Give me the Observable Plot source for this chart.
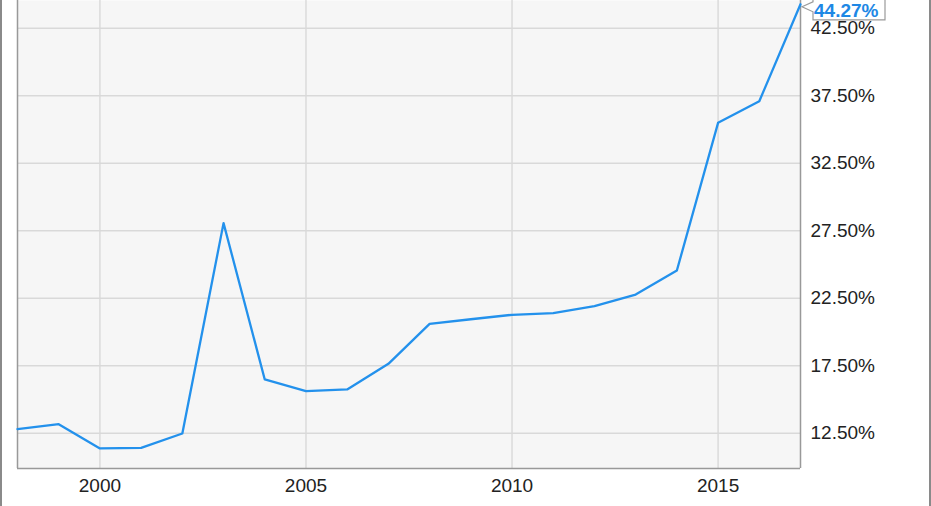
<!DOCTYPE html>
<html>
<head>
<meta charset="utf-8">
<script src="https://cdn.jsdelivr.net/npm/d3@7"></script>
<script src="https://cdn.jsdelivr.net/npm/@observablehq/plot@0.6"></script>
<style>
  html, body { margin: 0; padding: 0; background: #fff; }
  #chart svg { display: block; border-left: 2px solid #8a8a8a; border-right: 2px solid #8a8a8a; background: #fff; }
</style>
</head>
<body>
<div id="chart"></div>
<script>
const years = [1998, 1999, 2000, 2001, 2002, 2003, 2004, 2005, 2006, 2007, 2008, 2009, 2010, 2011, 2012, 2013, 2014, 2015, 2016, 2017];
const values = [12.8, 13.17, 11.37, 11.41, 12.48, 28.06, 16.48, 15.61, 15.74, 17.64, 20.6, 20.94, 21.27, 21.39, 21.91, 22.77, 24.55, 35.49, 37.09, 44.27];
const yTicks = [12.5, 17.5, 22.5, 27.5, 32.5, 37.5, 42.5];
const xTicks = [2000, 2005, 2010, 2015];
const lastLabel = "44.27%";

const data = years.map((year, i) => ({year, value: values[i]}));
const last = data[data.length - 1];
const blue = "#2391ec";

const callout = (...args) => {
  const scales = args.find(a => a && !Array.isArray(a) && typeof a.x === "function" && typeof a.y === "function");
  const px = scales.x(last.year), py = scales.y(last.value);
  const g = d3.create("svg:g");
  const L = px + 13, R = px + 85, T = py - 8, B = py + 16;
  g.append("path")
    .attr("d", `M${px + 2},${py + 3} L${L},${py - 2} L${L},${T} L${R},${T} L${R},${B} L${L},${B} L${L},${py + 8} Z`)
    .attr("fill", "#fff")
    .attr("stroke", "#9a9a9a")
    .attr("stroke-width", 1.2);
  g.append("text")
    .attr("x", L + 1)
    .attr("y", py + 13.5)
    .attr("text-anchor", "start")
    .attr("fill", "#1e88e5")
    .attr("font-family", "'Liberation Sans', Arial, sans-serif")
    .attr("font-weight", "bold")
    .attr("font-size", 19)
    .text(lastLabel);
  return g.node();
};

const chart = Plot.plot({
  width: 927,
  height: 506,
  marginTop: 0,
  marginLeft: 15,
  marginRight: 129,
  marginBottom: 38,
  style: {fontFamily: "'Liberation Sans', Arial, sans-serif", fontSize: "19px", color: "#222", background: "#fff", overflow: "visible"},
  x: {domain: [1998, 2017]},
  y: {domain: [9.885, 44.55]},
  marks: [
    Plot.frame({fill: "#f6f6f6", stroke: null}),
    Plot.gridY(yTicks, {stroke: "#d9d9d9", strokeOpacity: 1, strokeWidth: 1.4}),
    Plot.gridX(xTicks, {stroke: "#d9d9d9", strokeOpacity: 1, strokeWidth: 1.4}),
    Plot.ruleX([1998, 2017], {stroke: "#999", strokeWidth: 1.5}),
    Plot.ruleY([9.885], {stroke: "#999", strokeWidth: 1.5}),
    Plot.axisY(yTicks, {anchor: "right", tickSize: 0, tickPadding: 10, tickFormat: d => d.toFixed(2) + "%", fontSize: 19, label: null}),
    Plot.axisX(xTicks, {anchor: "bottom", tickSize: 0, tickPadding: 10, tickFormat: d => String(d), fontSize: 19, label: null}),
    Plot.line(data, {x: "year", y: "value", stroke: blue, strokeWidth: 2.3}),
    callout
  ]
});
document.getElementById("chart").appendChild(chart);
</script>
</body>
</html>
